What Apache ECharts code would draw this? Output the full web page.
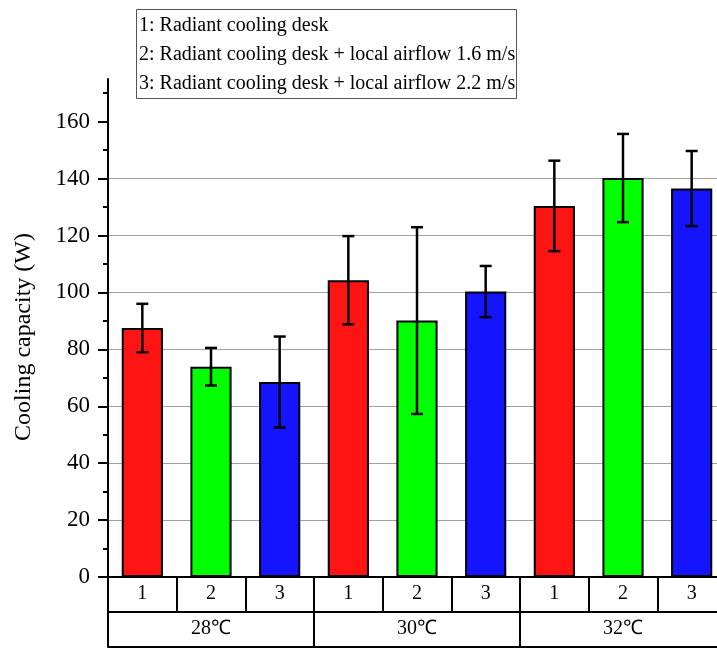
<!DOCTYPE html>
<html>
<head>
<meta charset="utf-8">
<script src="https://cdn.jsdelivr.net/npm/echarts@6/dist/echarts.min.js"></script>
<style>
  html, body { margin: 0; padding: 0; background: #fff; }
  #chart { width: 717px; height: 648px; }
</style>
</head>
<body>
<div id="chart"></div>
<script>
// Test conditions (ambient temperature groups) and cooling set-ups within each group
const groups = ['28℃', '30℃', '32℃'];
const setups = ['1', '2', '3'];
const conditions = ['1', '2', '3', '1', '2', '3', '1', '2', '3'];

// Mean cooling capacity (W) and standard deviation per bar
const capacity = [87.5, 73.9, 68.5, 104.3, 90.1, 100.3, 130.4, 140.2, 136.5];
const deviation = [8.5, 6.6, 16.0, 15.5, 32.8, 9.0, 15.9, 15.5, 13.2];

// Axis ticks
const majorTicks = [0, 20, 40, 60, 80, 100, 120, 140, 160];
const minorTicks = [10, 30, 50, 70, 90, 110, 130, 150, 170];

const legendLines = [
  '1: Radiant cooling desk',
  '2: Radiant cooling desk + local airflow 1.6 m/s',
  '3: Radiant cooling desk + local airflow 2.2 m/s'
];

const setupColors = ['#ff1414', '#00ff00', '#1414ff'];
const serif = '"Liberation Serif", "Times New Roman", serif';

const chart = echarts.init(document.getElementById('chart'), null, { renderer: 'canvas' });

const errorData = capacity.map((v, i) => [i, v - deviation[i], v + deviation[i]]);

// Three stacked grids share one plotting rectangle: the main chart,
// the temperature-group row and the closing line of the table below.
const plotRect = { left: 108, top: 79, width: 618, height: 498, outerBoundsMode: 'none' };
const tableLine = { color: '#000', width: 2 };

chart.setOption({
  animation: false,
  backgroundColor: '#fff',
  title: {
    text: legendLines.join('\n'),
    left: 136,
    top: 9,
    padding: [2, 2, 1, 3],
    borderColor: '#555',
    borderWidth: 1,
    backgroundColor: '#fff',
    textStyle: {
      fontFamily: serif,
      fontSize: 20,
      fontWeight: 'normal',
      color: '#000',
      lineHeight: 29
    }
  },
  grid: [
    Object.assign({}, plotRect),
    Object.assign({}, plotRect),
    Object.assign({}, plotRect)
  ],
  xAxis: [
    {
      type: 'category',
      gridIndex: 0,
      data: conditions,
      position: 'bottom',
      axisLine: { onZero: false, lineStyle: tableLine },
      axisTick: { show: true, length: 35, lineStyle: tableLine },
      axisLabel: { color: '#000', fontFamily: serif, fontSize: 20, margin: 7 }
    },
    {
      type: 'category',
      gridIndex: 1,
      data: groups,
      position: 'bottom',
      offset: 35,
      axisLine: { onZero: false, lineStyle: tableLine },
      axisTick: { show: true, length: 35, lineStyle: tableLine },
      axisLabel: { color: '#000', fontFamily: serif, fontSize: 20, margin: 7 }
    },
    {
      type: 'category',
      gridIndex: 2,
      data: groups,
      position: 'bottom',
      offset: 70,
      axisLine: { onZero: false, lineStyle: tableLine },
      axisTick: { show: false },
      axisLabel: { show: false }
    }
  ],
  yAxis: [
    {
      type: 'value',
      gridIndex: 0,
      min: 0,
      max: 175,
      interval: 20,
      name: 'Cooling capacity (W)',
      nameLocation: 'middle',
      nameGap: 72,
      nameTextStyle: { color: '#000', fontFamily: serif, fontSize: 24, padding: [0, 18, 0, 0] },
      axisLine: { show: true, lineStyle: { color: '#000', width: 2 } },
      axisTick: { show: true, customValues: majorTicks, length: 10, lineStyle: { color: '#000', width: 2 } },
      axisLabel: { customValues: majorTicks, color: '#000', fontFamily: serif, fontSize: 23, margin: 18 },
      splitLine: { show: true, showMinLine: false, showMaxLine: false, lineStyle: { color: '#a0a0a0', width: 1 } }
    },
    {
      type: 'value',
      gridIndex: 0,
      min: 0,
      max: 175,
      interval: 10,
      position: 'left',
      axisLine: { show: false },
      axisTick: { show: true, customValues: minorTicks, length: 5, lineStyle: { color: '#000', width: 2 } },
      axisLabel: { show: false },
      splitLine: { show: false }
    },
    { type: 'value', gridIndex: 1, show: false },
    { type: 'value', gridIndex: 2, show: false }
  ],
  series: [
    {
      type: 'bar',
      xAxisIndex: 0,
      yAxisIndex: 0,
      barWidth: '60%',
      data: capacity.map((v, i) => ({
        value: v,
        itemStyle: { color: setupColors[setups.indexOf(conditions[i])] }
      })),
      itemStyle: { borderColor: '#000', borderWidth: 2 },
      z: 2
    },
    {
      type: 'custom',
      xAxisIndex: 0,
      yAxisIndex: 0,
      data: errorData,
      z: 3,
      renderItem: function (params, api) {
        const x = api.value(0);
        const top = api.coord([x, api.value(2)]);
        const bottom = api.coord([x, api.value(1)]);
        const cap = 6;
        const style = { stroke: '#000', lineWidth: 2.5 };
        return {
          type: 'group',
          children: [
            { type: 'line', shape: { x1: top[0], y1: top[1], x2: bottom[0], y2: bottom[1] }, style: style },
            { type: 'line', shape: { x1: top[0] - cap, y1: top[1], x2: top[0] + cap, y2: top[1] }, style: style },
            { type: 'line', shape: { x1: bottom[0] - cap, y1: bottom[1], x2: bottom[0] + cap, y2: bottom[1] }, style: style }
          ]
        };
      }
    }
  ]
});
</script>
</body>
</html>
